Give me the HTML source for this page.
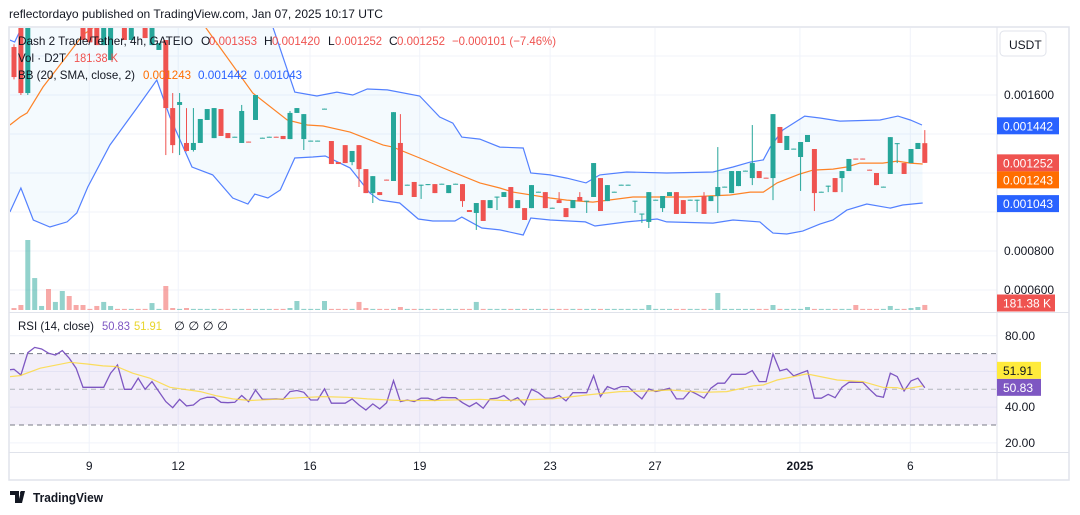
<!DOCTYPE html>
<html><head><meta charset="utf-8"><style>
html,body{margin:0;padding:0;background:#fff;width:1080px;height:515px;overflow:hidden}
svg{display:block;font-family:"Liberation Sans",sans-serif}
</style></head><body>
<svg id="chart" width="1080" height="515" viewBox="0 0 1080 515" xmlns="http://www.w3.org/2000/svg">
<defs>
<clipPath id="mainClip"><rect x="10" y="28" width="987" height="284"/></clipPath>
<clipPath id="rsiClip"><rect x="10" y="313" width="987" height="139"/></clipPath>
</defs>
<text x="9" y="18" font-size="12" fill="#131722" textLength="374" lengthAdjust="spacingAndGlyphs">reflectordayo published on TradingView.com, Jan 07, 2025 10:17 UTC</text>
<rect x="9" y="27" width="1060" height="453" fill="none" stroke="#e0e3eb" stroke-width="1.5"/>
<g id="grid"></g>
<line x1="997" y1="27" x2="997" y2="480" stroke="#e0e3eb"/>
<line x1="9" y1="312.5" x2="1069" y2="312.5" stroke="#e0e3eb"/>
<line x1="9" y1="452.5" x2="1069" y2="452.5" stroke="#e0e3eb"/>
<rect id="rsiBand" x="10" y="354" width="987" height="71" fill="#7e57c2" fill-opacity="0.1"/>
<g id="mainPane" clip-path="url(#mainClip)"></g>
<g id="rsiPane" clip-path="url(#rsiClip)"></g>
<g id="axes"></g>
<rect x="1000" y="31" width="46" height="25" rx="4" fill="#fff" stroke="#e0e3eb"/>
<text x="1009" y="49" font-size="12" fill="#131722">USDT</text>
<g font-size="12">
<text x="18" y="45" fill="#131722" textLength="175" lengthAdjust="spacingAndGlyphs">Dash 2 Trade/Tether, 4h, GATEIO</text>
<text x="201" y="45" fill="#131722">O</text><text x="209" y="45" fill="#ef5350" textLength="48" lengthAdjust="spacingAndGlyphs">0.001353</text>
<text x="264" y="45" fill="#131722">H</text><text x="272" y="45" fill="#ef5350" textLength="48" lengthAdjust="spacingAndGlyphs">0.001420</text>
<text x="328" y="45" fill="#131722">L</text><text x="335" y="45" fill="#ef5350" textLength="47" lengthAdjust="spacingAndGlyphs">0.001252</text>
<text x="389" y="45" fill="#131722">C</text><text x="397" y="45" fill="#ef5350" textLength="48" lengthAdjust="spacingAndGlyphs">0.001252</text>
<text x="452" y="45" fill="#ef5350" textLength="104" lengthAdjust="spacingAndGlyphs">−0.000101 (−7.46%)</text>
<text x="18" y="62" fill="#131722" textLength="48" lengthAdjust="spacingAndGlyphs">Vol · D2T</text>
<text x="74" y="62" fill="#ef5350" textLength="44" lengthAdjust="spacingAndGlyphs">181.38 K</text>
<text x="18" y="79" fill="#131722" textLength="117" lengthAdjust="spacingAndGlyphs">BB (20, SMA, close, 2)</text>
<text x="143" y="79" fill="#ff6d00" textLength="48" lengthAdjust="spacingAndGlyphs">0.001243</text>
<text x="198" y="79" fill="#2962ff" textLength="49" lengthAdjust="spacingAndGlyphs">0.001442</text>
<text x="254" y="79" fill="#2962ff" textLength="48" lengthAdjust="spacingAndGlyphs">0.001043</text>
</g>
<g font-size="12">
<text x="18" y="330" fill="#131722" textLength="76" lengthAdjust="spacingAndGlyphs">RSI (14, close)</text>
<text x="102" y="330" fill="#7e57c2" textLength="28" lengthAdjust="spacingAndGlyphs">50.83</text>
<text x="134" y="330" fill="#e8d52a" textLength="28" lengthAdjust="spacingAndGlyphs">51.91</text>
<text x="174" y="330" fill="#131722" textLength="54" lengthAdjust="spacingAndGlyphs">∅  ∅  ∅  ∅</text>
</g>
<g>
<path d="M10 491h9v12h-4v-8h-5z M21 491l4 0l-3 12h-4z" fill="#131722"/>
<circle cx="22" cy="493" r="2" fill="#131722"/>
<text x="33" y="502" font-size="13" font-weight="bold" fill="#131722" textLength="70" lengthAdjust="spacingAndGlyphs">TradingView</text>
</g>
</svg>
<script>
// ---- data (prices in units of 1e-6 USDT) ----
const opens  = [1846,1949,1610,1990,2050,2100,2040,2080,2120,2060,2010,1990,2000,1856,1779,2000,1990,1882,1990,1990,1856,1831,1882,1533,1549,1354,1318,1354,1472,1379,1528,1405,1384,1354,1361,1472,1379,1384,1386,1390,1374,1508,1374,1364,1364,1528,1364,1256,1343,1256,1343,1220,1097,1102,1166,1159,1354,1138,1154,1138,1138,1143,1143,1097,1143,1143,1010,995,1061,1020,1077,1077,1128,1020,1020,1020,1102,1102,1020,1061,1020,1020,1077,1056,1077,1174,1056,1102,1138,1138,1056,990,949,1061,1020,1082,1102,1061,1061,1061,1082,1056,1082,1128,1097,1133,1210,1174,1210,1176,1174,1436,1318,1323,1282,1359,1323,1102,1133,1174,1174,1210,1274,1274,1217,1200,1128,1195,1349,1251,1251,1323,1353];
const closes = [1692,1610,1980,2050,2100,2040,2080,2120,2060,2010,1882,1870,1856,1980,1990,1960,1882,1990,1970,1892,1990,1866,1533,1343,1564,1313,1354,1477,1528,1533,1390,1379,1386,1518,1359,1600,1381,1386,1384,1374,1508,1533,1502,1366,1366,1530,1246,1246,1251,1313,1220,1097,1184,1087,1164,1512,1087,1140,1077,1140,1143,1097,1145,1138,1145,1056,1000,1046,954,1061,1079,1102,1020,1061,959,1138,1104,1020,1022,1046,974,1061,1056,1058,1251,1005,1138,1104,1140,1140,1058,992,1102,1063,1082,1102,990,990,1063,1063,990,1082,1128,1130,1210,1210,1212,1251,1174,1174,1502,1354,1390,1325,1359,1395,1097,1104,1135,1102,1210,1272,1272,1272,1215,1138,1130,1384,1353,1195,1323,1354,1252];
const highs  = {0:1860,1:1960,2:1990,23:1610,24:1610,25:1533,26:1533,33:1549,40:1518,56:1502,68:1061,79:1102,82:1102,100:1102,102:1333,107:1446,132:1420};
const lows   = {0:1680,1:1600,2:1600,22:1292,23:1302,24:1292,25:1310,26:1310,42:1318,49:1240,50:1128,52:1046,59:1067,65:1026,67:908,70:1010,83:995,90:995,91:944,92:918,94:1000,99:1000,102:995,107:1138,110:1061,114:1108,116:1005,118:1102,120:1102,128:1251};
const volumesK = [70,180,2520,1150,145,756,290,684,504,180,180,40,145,290,145,40,40,40,40,40,250,40,864,72,40,72,40,40,40,40,40,40,40,40,40,40,40,40,40,40,72,324,40,40,40,324,40,40,40,40,290,72,40,40,40,40,108,40,40,40,40,40,40,40,40,40,40,290,40,40,40,40,40,40,40,40,40,40,40,40,40,40,40,40,40,40,40,40,40,40,40,40,180,40,40,40,40,40,40,40,40,40,612,40,40,40,40,40,40,40,180,40,40,40,40,108,40,40,40,40,40,40,180,40,40,40,40,145,40,40,72,108,181.38];
// Bollinger bands (index, value)
const bbUpperIdx = [-0.6,0.1,2.3,12.5,27,35.7,37.5,40.7,43.9,46.8,49.1,51.2,54.1,58.8,61.7,63.6,64.9,67.5,70.4,73.8,74.9,77.7,80.1,82.9,84.9,88.8,94.6,101.3,104.2,106.7,108.6,109.6,111.4,114.6,116.8,119.7,125.5,128.1,129.9,131.6];
const bbUpperVal = [1882,1872,2036,2292,2292,2113,1949,1615,1595,1615,1600,1631,1626,1595,1487,1456,1384,1374,1333,1328,1200,1190,1174,1149,1190,1205,1200,1205,1231,1256,1267,1333,1420,1492,1482,1466,1472,1492,1472,1446];
const bbLowerIdx = [-0.6,1.0,2.8,5.2,7.7,9.1,10.7,13.9,17.8,20.7,22.6,25.8,28.8,31.7,33.9,34.9,36.8,38.6,40.7,43.3,45.1,48.7,51.6,53.0,55.9,58.6,60.7,63.9,64.9,67.8,70.4,73.8,74.9,77.7,82.8,84.2,88.8,93.2,94.6,101.3,104.2,108.1,109.1,110.0,112.0,114.3,116.8,118.7,120.7,123.6,127.0,128.8,131.7];
const bbLowerVal = [1000,1123,959,923,949,995,1128,1343,1533,1677,1487,1231,1190,1072,1041,1092,1072,1113,1277,1282,1287,1226,1097,1061,1046,964,954,954,974,918,908,882,969,959,949,928,949,964,949,943,959,949,918,892,887,902,938,959,1010,1041,1020,1036,1046];
const bbMidIdx = [-0.6,0.9,1.9,4.2,10.0,12.0,19.7,27.0,34.6,39.6,42.5,44.8,48.7,53.5,54.9,58.8,63.6,67.5,70.4,72.3,77.7,80.1,83.9,89.7,97.5,103.8,106.7,108.6,110.6,113.9,115.8,118.7,120.7,122.6,125.9,128.0,129.9,131.7];
const bbMidVal = [1446,1487,1508,1641,1908,1959,2190,1984,1610,1472,1446,1441,1410,1343,1333,1277,1205,1149,1123,1102,1072,1061,1051,1077,1077,1087,1102,1102,1149,1195,1215,1220,1231,1251,1251,1261,1251,1246];
// RSI (first value is the bar before index 0)
const rsiValues = [60.8,61.2,58.0,70.5,73.5,72.6,70.2,69.2,71.7,67.4,61.8,51.1,51.1,51.1,51.1,59.0,63.6,50.0,50.0,56.2,50.0,54.3,48.7,43.1,39.7,44.4,40.7,41.2,44.4,45.5,45.5,42.7,42.5,42.7,46.5,43.1,49.6,44.4,44.4,44.6,44.4,48.7,49.3,48.3,44.0,44.0,50.2,42.2,42.2,42.2,44.6,41.2,38.4,41.8,39.0,42.5,54.9,43.1,44.0,43.1,45.0,45.0,43.7,45.5,45.3,45.3,42.5,40.3,42.5,39.4,44.6,45.0,46.5,43.5,45.3,41.2,50.0,48.1,45.0,45.0,46.5,43.5,48.1,48.1,48.1,57.7,45.9,51.5,50.0,51.5,51.5,47.8,44.6,50.2,48.7,49.6,50.6,44.6,44.6,49.1,47.2,45.0,50.6,53.4,53.4,58.4,58.4,58.4,60.5,54.3,54.3,69.8,60.3,61.4,57.5,59.0,60.5,45.0,45.0,47.2,45.3,51.1,53.9,53.9,53.9,50.0,46.3,45.5,59.0,57.1,49.1,54.7,56.2,50.83];
const rsiMaIdx = [-0.6,0.9,3.8,8.1,10.6,12.9,14.9,17.2,19.7,22.6,27.0,29.4,31.7,34.2,39.0,41.4,44.8,48.3,51.2,55.9,60.7,67.5,70.9,78.1,83.0,87.8,92.6,95.1,99.9,103.3,107.1,108.6,110.6,114.9,119.3,123.0,125.9,128.0,128.9,131.7];
const rsiMaVal = [57.1,57.7,61.8,65.1,64.2,63.1,62.7,59.0,56.2,51.1,48.7,46.3,44.6,43.7,44.6,45.3,45.9,45.5,44.6,43.7,43.7,44.4,43.7,44.6,46.8,48.7,49.1,49.6,48.3,48.7,51.9,52.4,55.2,58.6,55.2,54.3,51.1,50.9,50.0,51.91];
// axes
const priceGrid = [1800,1600,1400,1200,1000,800,600];
const priceLabels = ["0.001600","0.000800","0.000600"];
const priceLabelVals = [1600,800,600];
const rsiTicks = [80,60,40,20];
const rsiTickLabels = ["80.00","40.00","20.00"];
const rsiTickLabelVals = [80,40,20];
const timeLabels = ["9","12","16","19","23","27","2025","6"];
const timeIdx = [10.9,23.8,42.9,58.8,77.7,92.9,113.9,129.9];

// ---- scales ----
const NS="http://www.w3.org/2000/svg";
const xOf = i => 14 + 6.9*i;
const yP = v => 95 + (1600 - v)*0.195;
const yR = v => 389.3 - (v - 50)*1.785;
const yV = k => 310 - k/36;
function mk(tag, attrs, parent){const e=document.createElementNS(NS,tag);for(const k in attrs)e.setAttribute(k,attrs[k]);parent.appendChild(e);return e;}
const grid=document.getElementById('grid'), main=document.getElementById('mainPane'), rsi=document.getElementById('rsiPane'), axes=document.getElementById('axes');
const GREEN="#26a69a", RED="#ef5350";

priceGrid.forEach(v=>{const l=mk('line',{x1:10,x2:997,y1:yP(v),y2:yP(v),stroke:'#f0f3fa'},grid);

});
rsiTicks.forEach(v=>{const l=mk('line',{x1:10,x2:997,y1:yR(v),y2:yR(v),stroke:'#f0f3fa'},grid);

});
timeIdx.forEach(t=>{const l=mk('line',{x1:xOf(t),x2:xOf(t),y1:28,y2:452,stroke:'#f0f3fa'},grid);

});

// volume
volumesK.forEach((k,i)=>{const up=closes[i]>=opens[i];
const r=mk('rect',{x:xOf(i)-2.5,y:yV(k),width:5,height:310-yV(k),fill:up?GREEN:RED,'fill-opacity':0.5},main);

});

// BB fill + lines
function pts(idx,val,fy){return idx.map((t,j)=>xOf(t).toFixed(1)+','+fy(val[j]).toFixed(1));}
const fillPts=pts(bbUpperIdx,bbUpperVal,yP).concat(pts(bbLowerIdx,bbLowerVal,yP).reverse());
const bf=mk('polygon',{points:fillPts.join(' '),fill:'#2196f3','fill-opacity':0.05},main);


const bu=mk('polyline',{points:pts(bbUpperIdx,bbUpperVal,yP).join(' '),fill:'none',stroke:'#2962ff','stroke-width':1.2,'stroke-opacity':0.8},main);


const bl=mk('polyline',{points:pts(bbLowerIdx,bbLowerVal,yP).join(' '),fill:'none',stroke:'#2962ff','stroke-width':1.2,'stroke-opacity':0.8},main);


const bm=mk('polyline',{points:pts(bbMidIdx,bbMidVal,yP).join(' '),fill:'none',stroke:'#ff6d00','stroke-width':1.2,'stroke-opacity':0.85},main);



// candles
opens.forEach((o,i)=>{const c=closes[i];const up=c>=o;const col=up?GREEN:RED;
const h=highs[i]!==undefined?highs[i]:Math.max(o,c);const l=lows[i]!==undefined?lows[i]:Math.min(o,c);
const g=mk('g',{},main);


mk('line',{x1:xOf(i),x2:xOf(i),y1:yP(h),y2:yP(l),stroke:col,'stroke-width':1},g);
const top=yP(Math.max(o,c)), bot=yP(Math.min(o,c));
mk('rect',{x:xOf(i)-2.5,y:top,width:5,height:Math.max(1,bot-top),fill:col},g);});

// RSI
const dash=[[70,'#787b86',1],[50,'#b2b5be',1],[30,'#787b86',1]];
dash.forEach(d=>{const l=mk('line',{x1:10,x2:997,y1:yR(d[0]),y2:yR(d[0]),stroke:d[1],'stroke-dasharray':'5,4','stroke-width':d[2]},rsi);

});
const rl=mk('polyline',{points:rsiValues.map((v,k)=>xOf(k-1).toFixed(1)+','+yR(v).toFixed(1)).join(' '),fill:'none',stroke:'#7e57c2','stroke-width':1.3},rsi);


const rm=mk('polyline',{points:pts(rsiMaIdx,rsiMaVal,yR).join(' '),fill:'none',stroke:'#fdd835','stroke-width':1.2,'stroke-opacity':0.8},rsi);



// axis labels
function txt(s,x,y,attrs,name){const t=mk('text',Object.assign({x:x,y:y,'font-size':12,fill:'#131722'},attrs||{}),axes);t.textContent=s;

return t;}
priceLabels.forEach((s,j)=>txt(s,1004,yP(priceLabelVals[j])+4,{},'price-tick-label'));
rsiTickLabels.forEach((s,j)=>txt(s,1005,yR(rsiTickLabelVals[j])+4,{},'rsi-tick-label'));
timeLabels.forEach((s,j)=>txt(s,xOf(timeIdx[j]),470,{'text-anchor':'middle','font-weight':s==='2025'?'bold':'normal'},'time-tick-label'));

// tags: centre y is the value's position, nudged apart to avoid overlap like the reference
function tagAt(s,y,bg,fg,name,w){
const r=mk('rect',{x:997,y:y-8.5,width:w||62,height:17,fill:bg},axes);


txt(s,1003,y+4.5,{fill:fg},name);}
tagAt("0.001442",yP(bbUpperVal[bbUpperVal.length-1]-4),'#2962ff','#fff','bb-upper-tag');
const lastY=yP(closes[closes.length-1]);
tagAt("0.001252",lastY,'#ef5350','#fff','last-price-tag');
tagAt("0.001243",Math.max(yP(1243),lastY+17),'#ff6d00','#fff','bb-basis-tag');
tagAt("0.001043",yP(bbLowerVal[bbLowerVal.length-1]-3),'#2962ff','#fff','bb-lower-tag');
tagAt("181.38 K",303,'#ef5350','#fff','volume-tag',58);
const rsiY=yR(rsiValues[rsiValues.length-1]);
tagAt("50.83",rsiY-0.5,'#7e57c2','#fff','rsi-tag',44);
tagAt("51.91",Math.min(yR(rsiMaVal[rsiMaVal.length-1]),rsiY-17.5),'#ffeb3b','#131722','rsi-ma-tag',44);
</script>
</body></html>
